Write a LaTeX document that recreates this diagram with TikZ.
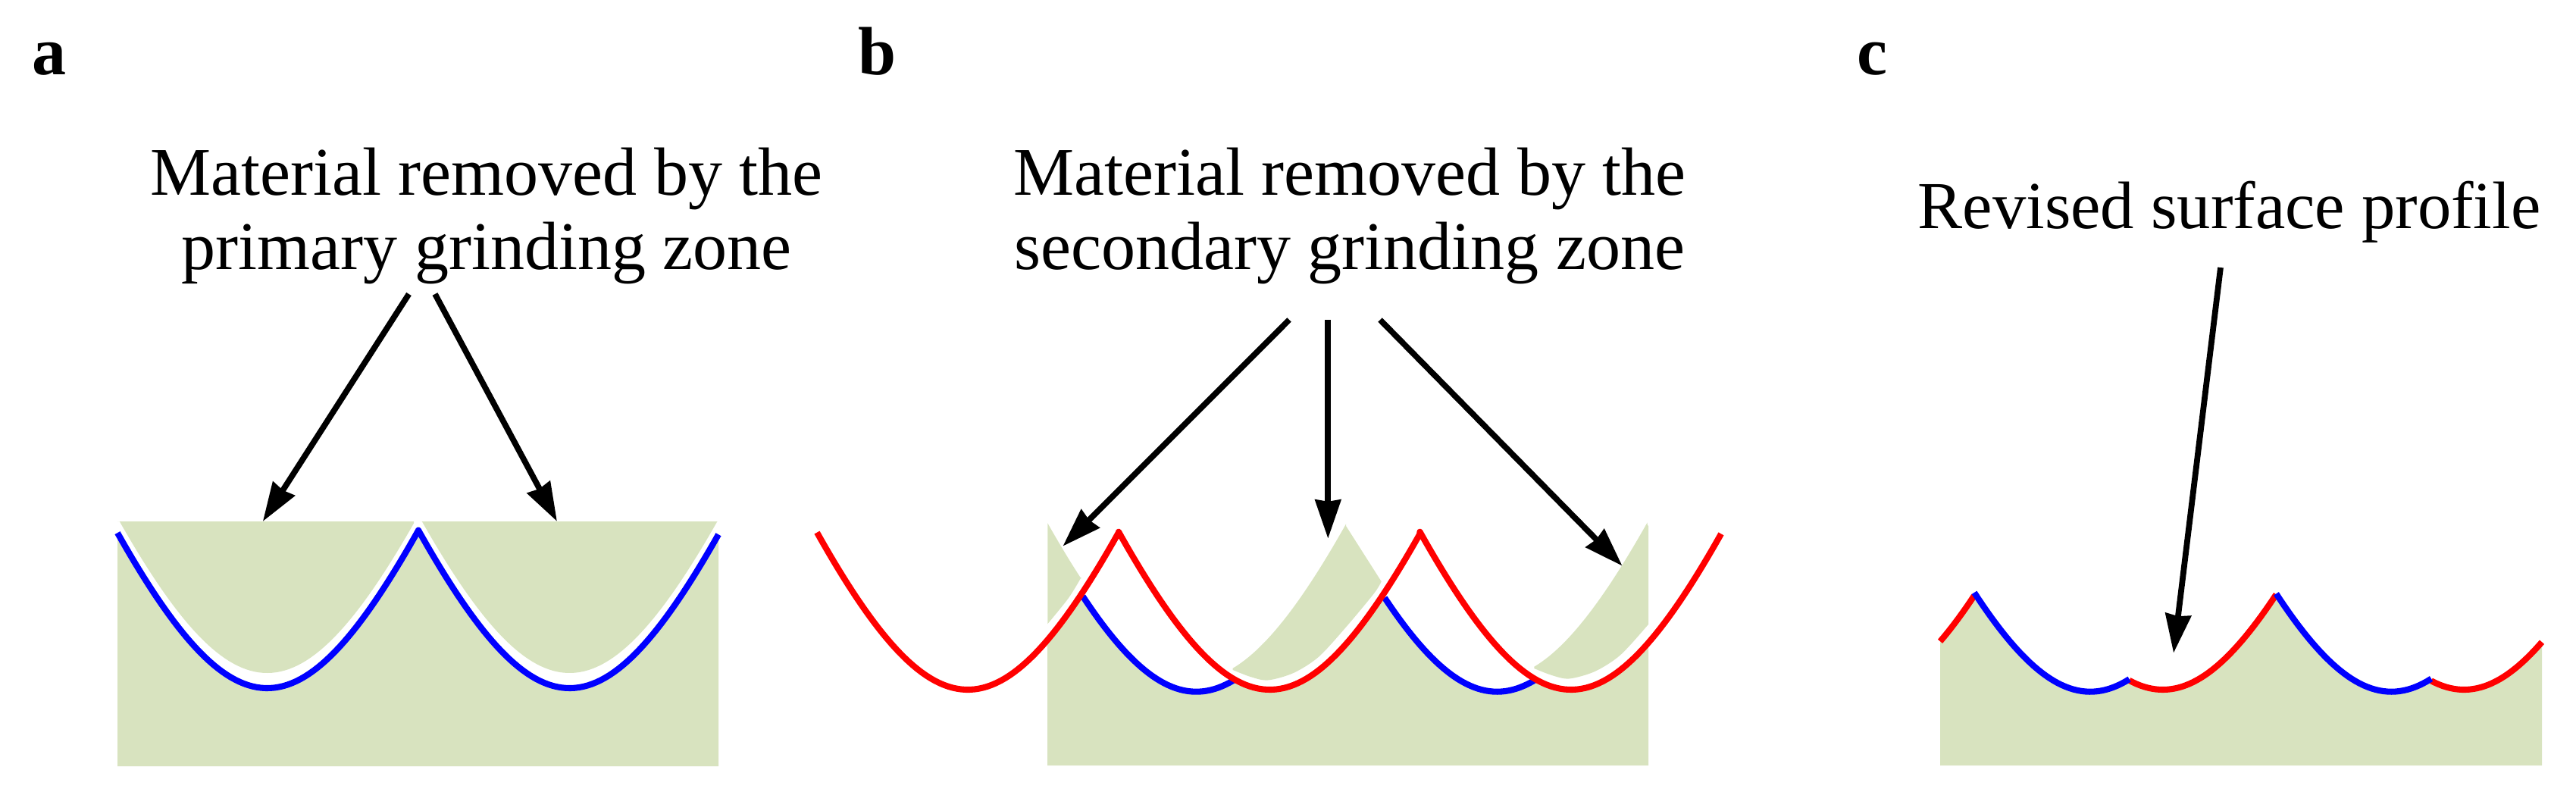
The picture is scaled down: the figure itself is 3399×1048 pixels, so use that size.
\documentclass[tikz,border=0pt]{standalone}
\usepackage{fontspec}
\setmainfont{Liberation Serif}
\usetikzlibrary{arrows.meta}
\definecolor{matgreen}{HTML}{D8E3BF}
\tikzset{
  declare function={prof(\d)=505*(sqrt(1+(\d/200)^2)-1);},
  caption/.style={inner sep=0pt,align=center,font=\fontsize{25.6}{27.6}\selectfont},
  panellabel/.style={inner sep=0pt,anchor=base west,font=\fontsize{25.6}{28}\selectfont\bfseries},
  pointer/.style={line width=2.2pt,-{Stealth[length=14.5pt,width=9.5pt,inset=0.6pt]}},
  bluecurve/.style={draw=blue,line width=2.3pt,line join=round},
  redcurve/.style={draw=red,line width=2.3pt,line join=round},
}
\begin{document}
\begin{tikzpicture}[x=0.01cm,y=-0.01cm]
\useasboundingbox (0,0) rectangle (3399,1048);
% ---------- panel a
\fill[matgreen] (155,1011) -- plot[domain=155:552,samples=70] ({\x},{908-prof(\x-352.6)})
  -- plot[domain=552:948,samples=70] ({\x},{908-prof(\x-751.6)}) -- (948,1011) -- cycle;
\begin{scope}
\clip (155,688) rectangle (948,1011);
\fill[matgreen] (155,688) -- (546,688) -- plot[domain=546:155,samples=70] ({\x},{888-prof(\x-352.6)}) -- cycle;
\fill[matgreen] (555,688) -- (947,688) -- plot[domain=947:555,samples=70] ({\x},{888-prof(\x-751.6)}) -- cycle;
\end{scope}
\draw[bluecurve] plot[domain=155:552,samples=70] ({\x},{908-prof(\x-352.6)})
  -- plot[domain=552:948,samples=70] ({\x},{908-prof(\x-751.6)});
% ---------- panel b
\fill[matgreen] (1382,1010) -- plot[domain=1382:1428.7,samples=12] ({\x},{910-prof(\x-1277)})
  -- plot[domain=1428.7:1628,samples=40] ({\x},{912.7-prof(\x-1578.5)})
  -- plot[domain=1628:1827,samples=40] ({\x},{910-prof(\x-1675.5)})
  -- plot[domain=1827:2026.5,samples=40] ({\x},{912.7-prof(\x-1975.5)})
  -- plot[domain=2026.5:2175,samples=30] ({\x},{910-prof(\x-2073)}) -- (2175,1010) -- cycle;
\fill[matgreen] (1382.3,690) -- plot[domain=1382.3:1426.7,samples=10] ({\x},{892.7-prof(\x-1578.5)})
  -- plot[smooth] coordinates {(1426.7,761.7) (1410,789) (1382.3,823.3)} -- cycle;
\fill[matgreen] plot[domain=1626.7:1776,samples=30] ({\x},{896.2-prof(\x-1578.5)})
  -- (1776,694) -- (1822.7,767.3)
  -- plot[smooth] coordinates {(1822.7,767.3) (1813,783) (1776.7,826.7) (1740,866.7) (1706.7,888) (1673,897.5) (1650,893) (1626.7,884)} -- cycle;
\begin{scope}
\clip (2000,600) rectangle (2175,1010);
\begin{scope}[shift={(397.6,-2)}]
\fill[matgreen] plot[domain=1626.7:1776,samples=30] ({\x},{896.2-prof(\x-1578.5)})
  -- (1776,694) -- (1822.7,767.3)
  -- plot[smooth] coordinates {(1822.7,767.3) (1813,783) (1776.7,826.7) (1740,866.7) (1706.7,888) (1673,897.5) (1650,893) (1626.7,884)} -- cycle;
\end{scope}
\end{scope}
\draw[bluecurve] plot[domain=1428.7:1628,samples=40] ({\x},{912.7-prof(\x-1578.5)});
\draw[bluecurve] plot[domain=1827:2026.5,samples=40] ({\x},{912.7-prof(\x-1975.5)});
\draw[redcurve] plot[domain=1078:1476,samples=70] ({\x},{910-prof(\x-1277)})
  -- plot[domain=1476:1873.5,samples=70] ({\x},{910-prof(\x-1675.5)})
  -- plot[domain=1873.5:2271,samples=70] ({\x},{910-prof(\x-2073)});
% ---------- panel c
\fill[matgreen] (2560,1010) -- plot[domain=2560:2605,samples=10] ({\x},{910-prof(\x-2456.4)})
  -- plot[domain=2605:2809.6,samples=40] ({\x},{912.7-prof(\x-2758)})
  -- plot[domain=2809.6:3003.4,samples=40] ({\x},{910-prof(\x-2853.8)})
  -- plot[domain=3003.4:3208,samples=40] ({\x},{912.7-prof(\x-3155.4)})
  -- plot[domain=3208:3354,samples=30] ({\x},{910-prof(\x-3251.2)}) -- (3354,1010) -- cycle;
\draw[redcurve] plot[domain=2560:2605,samples=10] ({\x},{910-prof(\x-2456.4)});
\draw[redcurve] plot[domain=2809.6:3003.4,samples=40] ({\x},{910-prof(\x-2853.8)});
\draw[redcurve] plot[domain=3208:3354,samples=30] ({\x},{910-prof(\x-3251.2)});
\draw[bluecurve] plot[domain=2605:2809.6,samples=40] ({\x},{912.7-prof(\x-2758)});
\draw[bluecurve] plot[domain=3003.4:3208,samples=40] ({\x},{912.7-prof(\x-3155.4)});
% ---------- texts
\node[panellabel] (la) at (42,98) {a};
\node[panellabel] (lb) at (1132,98) {b};
\node[panellabel] (lc) at (2450,98) {c};
\node[caption] (ta) at (642,285) {Material removed by the\\primary grinding zone};
\node[caption] (tb) at (1781,285) {Material removed by the\\secondary grinding zone};
\node[caption,font=\fontsize{25.2}{27.6}\selectfont,anchor=base] (tc) at (2941.5,301.7) {Revised surface profile};
% ---------- arrows
\coordinate (a1s) at (539.5,388); \coordinate (a1e) at (346.8,688);
\coordinate (a2s) at (574,388);   \coordinate (a2e) at (735,688);
\coordinate (b1s) at (1701,422);  \coordinate (b1e) at (1402.4,720.7);
\coordinate (b2s) at (1752.3,422);\coordinate (b2e) at (1752.3,710.7);
\coordinate (b3s) at (1821,422);  \coordinate (b3e) at (2140.6,746.7);
\coordinate (c1s) at (2930,353);  \coordinate (c1e) at (2868,861.7);
\draw[pointer] (a1s) -- (a1e);
\draw[pointer] (a2s) -- (a2e);
\draw[pointer] (b1s) -- (b1e);
\draw[pointer] (b2s) -- (b2e);
\draw[pointer] (b3s) -- (b3e);
\draw[pointer] (c1s) -- (c1e);
\end{tikzpicture}
\end{document}
